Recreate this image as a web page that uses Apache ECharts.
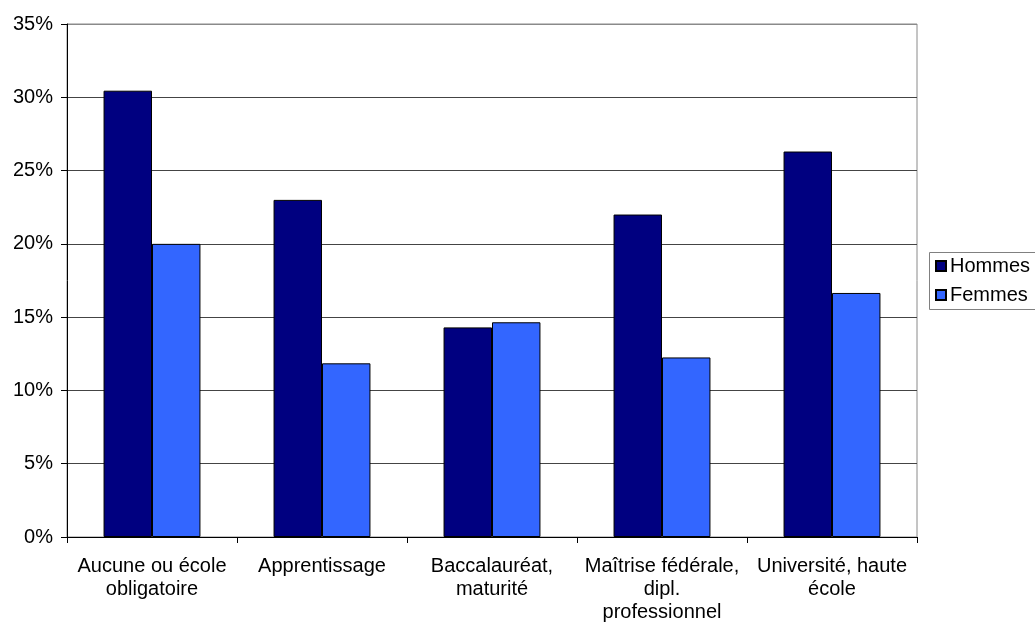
<!DOCTYPE html>
<html>
<head>
<meta charset="utf-8">
<script src="https://cdn.jsdelivr.net/npm/echarts@6/dist/echarts.min.js"></script>
<style>
  html, body { margin: 0; padding: 0; background: #fff; }
  #chart { width: 1035px; height: 626px; }
</style>
</head>
<body>
<div id="chart"></div>
<script>
// Education level categories
const categories = [
  'Aucune ou école\nobligatoire',
  'Apprentissage',
  'Baccalauréat,\nmaturité',
  'Maîtrise fédérale,\ndipl.\nprofessionnel',
  'Université, haute\nécole'
];
// Shares in percent
const hommes = [30.45, 23.0, 14.3, 22.0, 26.3];
const femmes = [20.0, 11.85, 14.65, 12.25, 16.65];
const seriesNames = ['Hommes', 'Femmes'];

const FONT = '"Liberation Sans", Arial, sans-serif';

const chart = echarts.init(document.getElementById('chart'), null, { renderer: 'canvas' });
chart.setOption({
  animation: false,
  backgroundColor: '#ffffff',
  textStyle: { fontFamily: FONT, color: '#000' },
  grid: {
    left: 67, top: 24, right: 118, bottom: 89,
    show: true, borderColor: '#8a8a8a', borderWidth: 1, backgroundColor: 'transparent'
  },
  // legend frame runs past the right edge of the canvas
  graphic: [{
    type: 'rect', z: 0, silent: true,
    shape: { x: 929.5, y: 252.5, width: 150, height: 57 },
    style: { fill: '#fff', stroke: '#808080', lineWidth: 1 }
  }],
  legend: {
    orient: 'vertical',
    left: 930, top: 253,
    data: seriesNames,
    icon: 'rect',
    itemWidth: 10, itemHeight: 10,
    itemGap: 9,
    padding: [3, 0, 4, 5],
    borderWidth: 0,
    z: 5,
    textStyle: { fontFamily: FONT, fontSize: 20, color: '#000', padding: [0, 0, 0, -1] }
  },
  xAxis: {
    type: 'category',
    data: categories,
    axisLine: { lineStyle: { color: '#000', width: 1 } },
    axisTick: { show: true, length: 6, lineStyle: { color: '#000' } },
    axisLabel: {
      interval: 0, margin: 18, fontSize: 20, lineHeight: 23,
      color: '#000', fontFamily: FONT, align: 'center'
    },
    splitLine: { show: false }
  },
  yAxis: {
    type: 'value',
    min: 0, max: 35, interval: 5,
    axisLine: { show: true, lineStyle: { color: '#000', width: 1 } },
    axisTick: { show: true, length: 6, lineStyle: { color: '#000' } },
    axisLabel: { formatter: '{value}%', fontSize: 20, margin: 14, color: '#000', fontFamily: FONT },
    splitLine: {
      show: true,
      lineStyle: {
        color: ['#444', '#444', '#444', '#444', '#444', '#444', '#444', '#8a8a8a'],
        width: 1
      }
    }
  },
  series: [
    {
      name: seriesNames[0], type: 'bar', data: hommes,
      barGap: '0%', barCategoryGap: '43%',
      itemStyle: { color: '#000080', borderColor: '#000', borderWidth: 1 }
    },
    {
      name: seriesNames[1], type: 'bar', data: femmes,
      barGap: '0%', barCategoryGap: '43%',
      itemStyle: { color: '#3366ff', borderColor: '#000', borderWidth: 1 }
    }
  ]
});
</script>
</body>
</html>
